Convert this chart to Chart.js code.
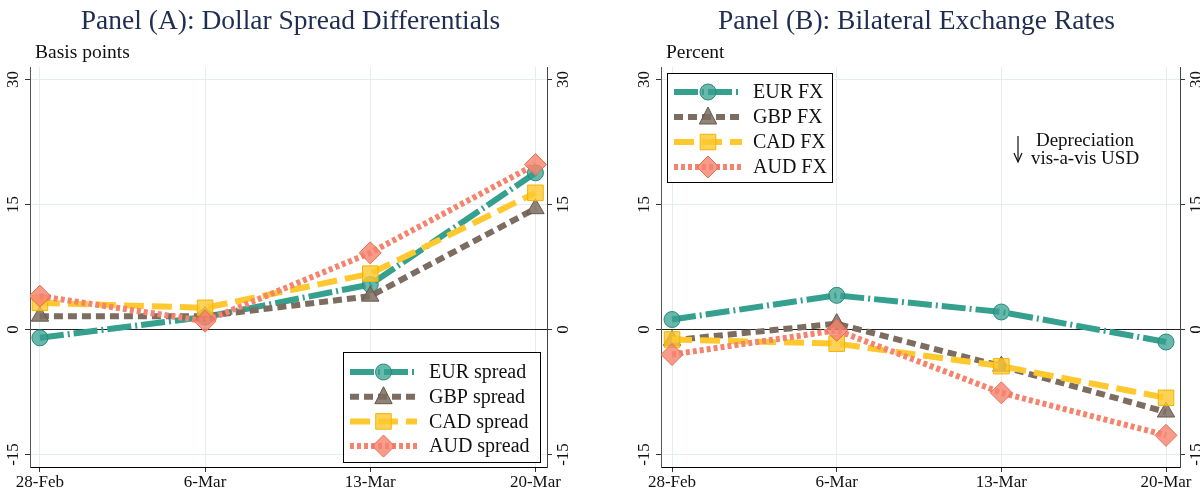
<!DOCTYPE html>
<html><head><meta charset="utf-8">
<script src="https://cdn.jsdelivr.net/npm/chart.js@4.4.1/dist/chart.umd.min.js"></script>
<style>
html,body{margin:0;padding:0;background:#fff;}
#wrap{position:relative;width:1200px;height:491px;overflow:hidden;}
.pane{position:absolute;top:0;width:600px;height:491px;}
canvas{display:block;}
</style></head><body>
<div id="wrap">
<div class="pane" style="left:0"><canvas id="cA" width="600" height="491"></canvas></div>
<div class="pane" style="left:600px"><canvas id="cB" width="600" height="491"></canvas></div>
</div>
<script>
// ---- data ----
const categories = ['28-Feb', '6-Mar', '13-Mar', '20-Mar'];
const yTickValues = [-15, 0, 15, 30];
const yTickLabels = ['-15', '0', '15', '30'];

const spreadNames = ['EUR spread', 'GBP spread', 'CAD spread', 'AUD spread'];
const eurSpread = [-1.0, 1.5, 5.4, 18.8];
const gbpSpread = [1.6, 1.6, 4.0, 14.5];
const cadSpread = [3.2, 2.6, 6.7, 16.4];
const audSpread = [4.0, 1.0, 9.2, 19.8];

const fxNames = ['EUR FX', 'GBP FX', 'CAD FX', 'AUD FX'];
const eurFX = [1.2, 4.1, 2.1, -1.5];
const gbpFX = [-1.3, 0.7, -4.4, -9.9];
const cadFX = [-1.2, -1.7, -4.4, -8.2];
const audFX = [-3.0, -0.1, -7.6, -12.7];

// ---- styles ----
const SERIF = '"Liberation Serif", "DejaVu Serif", serif';
const styles = [
  {color:'#36a08f', fill:'rgba(54,160,143,0.75)', border:'#2a8a7a', dash:[24,4,2,4], ps:'circle', r:8},
  {color:'#7d6d60', fill:'rgba(125,109,96,0.85)', border:'#66584c', dash:[9,5], ps:'triangle', r:10},
  {color:'#ffc82e', fill:'rgba(255,200,46,0.8)', border:'#f2b400', dash:[20,8], ps:'rect', r:11},
  {color:'#f5836d', fill:'rgba(245,131,109,0.8)', border:'#ec6a52', dash:[4,3], ps:'rectRot', r:11}
];

function drawMarker(ctx, ps, r, x, y, fill, stroke) {
  ctx.save();
  ctx.setLineDash([]);
  ctx.fillStyle = fill; ctx.strokeStyle = stroke; ctx.lineWidth = 1;
  ctx.beginPath();
  if (ps === 'circle') ctx.arc(x, y, r, 0, Math.PI * 2);
  else if (ps === 'triangle') {
    ctx.moveTo(x, y - r); ctx.lineTo(x + r * 0.866, y + r * 0.5 + 2); ctx.lineTo(x - r * 0.866, y + r * 0.5 + 2);
    ctx.closePath();
  } else if (ps === 'rect') {
    const s = r * Math.SQRT1_2; ctx.rect(x - s, y - s, 2 * s, 2 * s);
  } else {
    ctx.moveTo(x, y - r); ctx.lineTo(x + r, y); ctx.lineTo(x, y + r); ctx.lineTo(x - r, y); ctx.closePath();
  }
  ctx.fill(); ctx.stroke();
  ctx.restore();
}

function makeChart(id, cfg) {
  const datasets = cfg.series.map((vals, i) => ({
    label: cfg.names[i],
    data: vals.map((v, k) => ({x: k, y: v})),
    borderColor: styles[i].color,
    borderWidth: 6,
    borderDash: styles[i].dash,
    borderCapStyle: 'butt',
    tension: 0,
    pointStyle: styles[i].ps,
    pointRadius: styles[i].r,
    pointBackgroundColor: styles[i].fill,
    pointBorderColor: styles[i].border,
    pointBorderWidth: 1,
    order: 3 - i,
    fill: false
  }));

  const decor = {
    id: 'decor',
    afterDraw(chart) {
      const ctx = chart.ctx, ca = chart.chartArea;
      const ys = chart.scales.y;
      ctx.save();
      // title
      ctx.fillStyle = '#1f2d50';
      ctx.font = '27.5px ' + SERIF;
      ctx.textAlign = 'center'; ctx.textBaseline = 'middle';
      ctx.fillText(cfg.title, (ca.left + ca.right) / 2 + cfg.titleDx, 22);
      // unit
      ctx.fillStyle = '#111';
      ctx.font = '19.5px ' + SERIF;
      ctx.textAlign = 'left';
      ctx.fillText(cfg.unit, ca.left + 5, 53);
      // rotated y tick labels, both sides
      ctx.font = '17px ' + SERIF;
      yTickValues.forEach((v, k) => {
        const py = ys.getPixelForValue(v);
        ctx.save();
        ctx.translate(ca.left - 8, py); ctx.rotate(-Math.PI / 2);
        ctx.textAlign = 'center'; ctx.textBaseline = 'bottom';
        ctx.fillText(yTickLabels[k], 0, 0);
        ctx.restore();
        ctx.save();
        ctx.translate(ca.right + 8, py); ctx.rotate(-Math.PI / 2);
        ctx.textAlign = 'center'; ctx.textBaseline = 'top';
        ctx.fillText(yTickLabels[k], 0, 0);
        ctx.restore();
      });
      // legend
      const L = cfg.legend;
      ctx.fillStyle = '#fff';
      ctx.fillRect(L.x, L.y, L.w, L.h);
      ctx.strokeStyle = '#000'; ctx.lineWidth = 1;
      ctx.strokeRect(L.x + 0.5, L.y + 0.5, L.w, L.h);
      chart.data.datasets.forEach((ds, i) => {
        const yy = L.y + L.first + i * L.step;
        ctx.save();
        ctx.strokeStyle = ds.borderColor; ctx.lineWidth = 6; ctx.lineCap = 'butt';
        ctx.setLineDash(ds.borderDash);
        ctx.beginPath(); ctx.moveTo(L.x + 7, yy); ctx.lineTo(L.x + 7 + L.lineW, yy); ctx.stroke();
        ctx.restore();
        drawMarker(ctx, ds.pointStyle, ds.pointRadius, L.x + 7 + L.lineW / 2, yy, ds.pointBackgroundColor, ds.pointBorderColor);
        ctx.fillStyle = '#111';
        ctx.font = '20px ' + SERIF;
        ctx.textAlign = 'left'; ctx.textBaseline = 'middle';
        ctx.fillText(ds.label, L.x + L.textX, yy + 1);
      });
      // annotation
      if (cfg.note) {
        ctx.fillStyle = '#111';
        ctx.font = '19px ' + SERIF;
        ctx.textAlign = 'center'; ctx.textBaseline = 'middle';
        ctx.fillText(cfg.note[0], cfg.noteX, 141);
        ctx.fillText(cfg.note[1], cfg.noteX, 159);
        ctx.strokeStyle = '#111'; ctx.lineWidth = 1.2;
        ctx.beginPath(); ctx.moveTo(cfg.arrowX, 136); ctx.lineTo(cfg.arrowX, 161); ctx.stroke();
        ctx.beginPath(); ctx.moveTo(cfg.arrowX - 4, 153); ctx.lineTo(cfg.arrowX, 162); ctx.lineTo(cfg.arrowX + 4, 153); ctx.stroke();
      }
      ctx.restore();
    }
  };

  const lightGrid = '#e3ecee';
  return new Chart(document.getElementById(id), {
    type: 'line',
    data: {datasets},
    plugins: [decor],
    options: {
      responsive: false, animation: false, devicePixelRatio: 1,
      layout: {padding: {top: 67, left: 0, right: 0, bottom: 0}},
      plugins: {legend: {display: false}, tooltip: {enabled: false}, title: {display: false}},
      scales: {
        x: {
          type: 'linear', min: cfg.xMin, max: cfg.xMax,
          afterBuildTicks: s => { s.ticks = categories.map((c, k) => ({value: k})); },
          afterFit: s => { s.height = 24; },
          ticks: {
            callback: v => categories[v] !== undefined ? categories[v] : '',
            font: {family: SERIF, size: 17}, color: '#111', padding: 0, maxRotation: 0, autoSkip: false
          },
          grid: {color: lightGrid, tickColor: '#333', tickLength: 5, lineWidth: 1},
          border: {color: '#000', width: 1}
        },
        y: {
          type: 'linear', position: 'left', min: -16.5, max: 31.5,
          afterBuildTicks: s => { s.ticks = yTickValues.map(v => ({value: v})); },
          afterFit: s => { s.width = cfg.leftW; },
          ticks: {display: false},
          grid: {
            color: c => (c.tick && c.tick.value === 0) ? '#222' : lightGrid,
            tickColor: '#333', tickLength: 5, lineWidth: 1
          },
          border: {color: '#555', width: 1}
        },
        y2: {
          type: 'linear', position: 'right', min: -16.5, max: 31.5,
          afterBuildTicks: s => { s.ticks = yTickValues.map(v => ({value: v})); },
          afterFit: s => { s.width = cfg.rightW; },
          ticks: {display: false},
          grid: {drawOnChartArea: false, tickColor: '#333', tickLength: 5},
          border: {color: '#444', width: 1}
        }
      }
    }
  });
}

makeChart('cA', {
  series: [eurSpread, gbpSpread, cadSpread, audSpread], names: spreadNames,
  title: 'Panel (A): Dollar Spread Differentials', titleDx: 2, unit: 'Basis points',
  leftW: 30, rightW: 53, xMin: -0.06, xMax: 3.07,
  legend: {x: 343, y: 352, w: 197, h: 110, first: 20, step: 24.7, lineW: 67, textX: 86}
});
makeChart('cB', {
  series: [eurFX, gbpFX, cadFX, audFX], names: fxNames,
  title: 'Panel (B): Bilateral Exchange Rates', titleDx: -4, unit: 'Percent',
  leftW: 61, rightW: 20, xMin: -0.067, xMax: 3.085,
  legend: {x: 67, y: 73, w: 165, h: 109, first: 19, step: 25, lineW: 68, textX: 86},
  note: ['Depreciation', 'vis-a-vis USD'], noteX: 485, arrowX: 418
});
</script>
</body></html>
